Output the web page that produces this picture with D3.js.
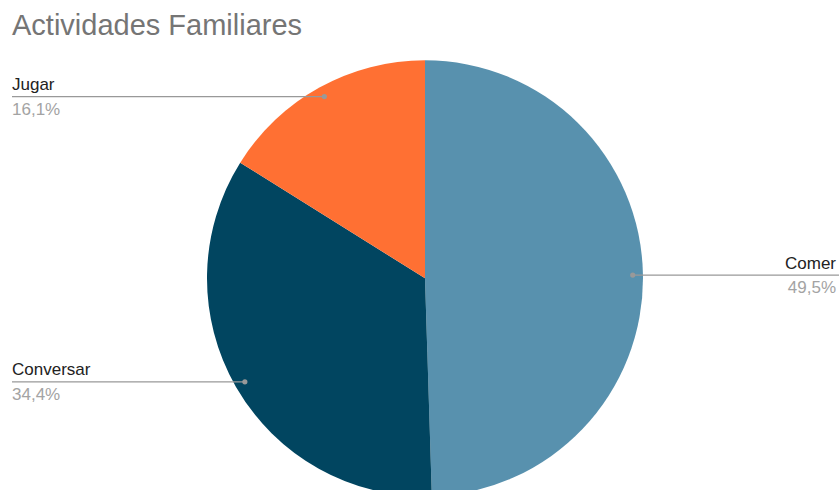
<!DOCTYPE html>
<html><head><meta charset="utf-8">
<script src="https://cdn.jsdelivr.net/npm/d3@7"></script>
<style>body{margin:0;background:#fff}svg{display:block}</style>
</head><body>
<script>
const title = "Actividades Familiares";
const categories = ["Comer", "Conversar", "Jugar"];
const values = [49.5, 34.4, 16.1];
const percentLabels = ["49,5%", "34,4%", "16,1%"];
const colors = ["#5891ae", "#014560", "#ff7033"];

const W = 839, H = 490;
const cx = 425, cy = 278.3, R = 218;
const svg = d3.select("body").append("svg").attr("width", W).attr("height", H);
const font = "Arial, 'Liberation Sans', sans-serif";

svg.append("text").attr("x", 12).attr("y", 34.5)
  .attr("font-family", font).attr("font-size", 29).attr("fill", "#757575").text(title);

const data = categories.map((c, i) => ({cat: c, value: values[i], pct: percentLabels[i], color: colors[i]}));
const pie = d3.pie().value(d => d.value).sort(null);
const arcs = pie(data);
const arc = d3.arc().innerRadius(0).outerRadius(R);
const labelArc = d3.arc().innerRadius(R * 0.953).outerRadius(R * 0.953);

const g = svg.append("g").attr("transform", `translate(${cx},${cy})`);
g.selectAll("path").data(arcs).join("path").attr("d", arc).attr("fill", d => d.data.color);

arcs.forEach(a => {
  const [px, py] = labelArc.centroid(a);
  const x = cx + px, y = cy + py;
  const right = x > cx;
  const x2 = right ? W : 12;
  svg.append("line").attr("x1", x).attr("y1", y).attr("x2", x2).attr("y2", y)
    .attr("stroke", "#999").attr("stroke-width", 1.3);
  svg.append("circle").attr("cx", x).attr("cy", y).attr("r", 2.6).attr("fill", "#999");
  const tx = right ? 836 : 12;
  const anchor = right ? "end" : "start";
  svg.append("text").attr("x", tx).attr("y", y - 6.3).attr("text-anchor", anchor)
    .attr("font-family", font).attr("font-size", 17).attr("fill", "#222").text(a.data.cat);
  svg.append("text").attr("x", tx).attr("y", y + 18).attr("text-anchor", anchor)
    .attr("font-family", font).attr("font-size", 17).attr("fill", "#a3a3a3").text(a.data.pct);
});
</script>
</body></html>
